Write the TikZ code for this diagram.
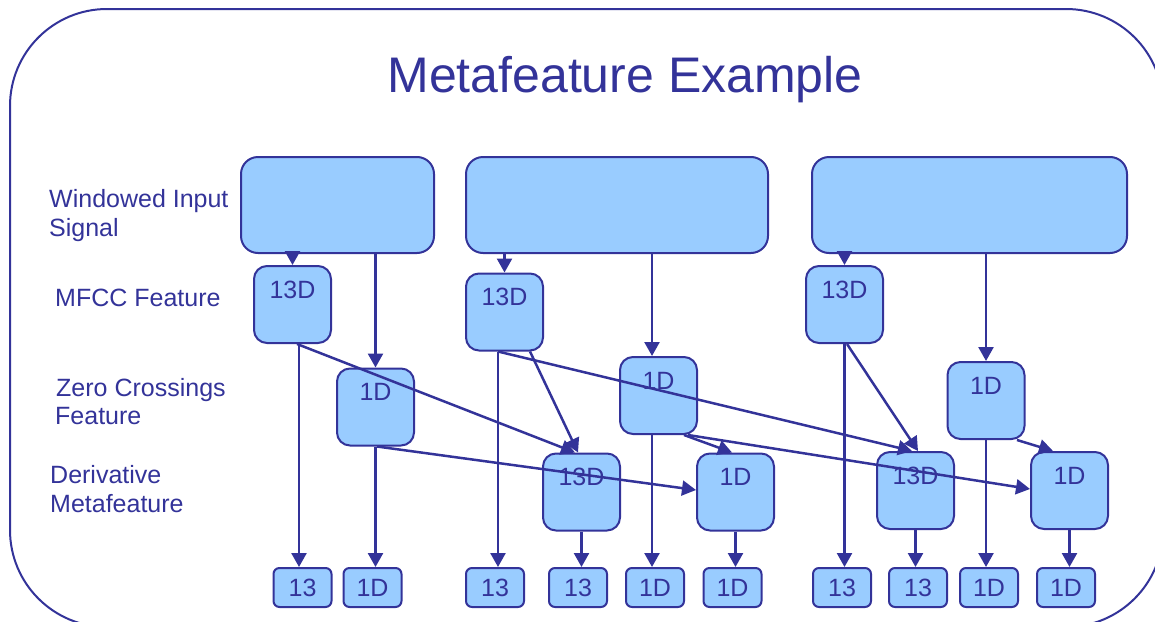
\documentclass[tikz,border=0pt]{standalone}
\usepackage{fontspec}
\setmainfont{Liberation Sans}
\usetikzlibrary{arrows.meta}
\definecolor{navy}{HTML}{333399}
\definecolor{skyfill}{HTML}{99CCFF}
\begin{document}
\begin{tikzpicture}[x=1pt,y=-1pt,
  every node/.style={text=navy, inner sep=0pt, font=\fontsize{25}{28}\selectfont},
  bigbox/.style={draw=navy, fill=skyfill, line width=2pt, rounded corners=17pt, minimum height=96pt},
  featbox/.style={draw=navy, fill=skyfill, line width=2pt, rounded corners=13pt, minimum width=77pt, text height=32pt, text depth=45pt},
  outbox/.style={draw=navy, fill=skyfill, line width=2pt, rounded corners=6pt, minimum width=58pt, minimum height=39pt},
  lbl/.style={anchor=base west},
  conn/.style={draw=navy, line width=2.5pt, -{Triangle[width=15pt,length=14pt]}},
]
\useasboundingbox (0,0) rectangle (1155,621);
\clip (0,0) rectangle (1155,621);
% frame
\draw[navy, line width=2pt, rounded corners=97pt] (10,9) rectangle (1163,627);
% title
\node[anchor=base, font=\fontsize{50}{60}\selectfont] (title) at (625,92) {Metafeature Example};
% row labels
\node[lbl] (l1a) at (49,207) {Windowed Input};
\node[lbl] (l1b) at (49,236) {Signal};
\node[lbl] (l2) at (55,306) {MFCC Feature};
\node[lbl] (l3a) at (56,396) {Zero Crossings};
\node[lbl] (l3b) at (55,424) {Feature};
\node[lbl] (l4a) at (50,483) {Derivative};
\node[lbl] (l4b) at (50,512) {Metafeature};
% input boxes
\node[bigbox, minimum width=193pt] (in1) at (337.5,205) {};
\node[bigbox, minimum width=302pt] (in2) at (617,205) {};
\node[bigbox, minimum width=315pt] (in3) at (969.5,205) {};
% MFCC
\node[featbox] (m1) at (292.5,304.5) {13D};
\node[featbox] (m2) at (504.5,312) {13D};
\node[featbox] (m3) at (844.5,304.5) {13D};
% zero crossings
\node[featbox] (z1) at (375.5,407) {1D};
\node[featbox] (z2) at (658.5,395.5) {1D};
\node[featbox] (z3) at (986,400.5) {1D};
% derivatives
\node[featbox] (d1) at (581.5,492) {13D};
\node[featbox] (d2) at (735.5,492) {1D};
\node[featbox] (d3) at (915.5,490.5) {13D};
\node[featbox] (d4) at (1069.5,490.5) {1D};
% outputs
\node[outbox] (b1) at (302.5,587.5) {13};
\node[outbox] (b2) at (372.5,587.5) {1D};
\node[outbox] (b3) at (495,587.5) {13};
\node[outbox] (b4) at (578,587.5) {13};
\node[outbox] (b5) at (655,587.5) {1D};
\node[outbox] (b6) at (732.5,587.5) {1D};
\node[outbox] (b7) at (842,587.5) {13};
\node[outbox] (b8) at (918,587.5) {13};
\node[outbox] (b9) at (989,587.5) {1D};
\node[outbox] (b10) at (1066,587.5) {1D};
% input -> features
\draw[conn] (in1.south -| m1.north) -- (m1.north);
\draw[conn] (in1.south -| z1.north) -- (z1.north);
\draw[conn] (in2.south -| m2.north) -- (m2.north);
\draw[conn] ([xshift=-6.5pt]z2.north |- in2.south) -- ([xshift=-6.5pt]z2.north);
\draw[conn] (in3.south -| m3.north) -- (m3.north);
\draw[conn] (in3.south -| z3.north) -- (z3.north);
% features -> outputs
\draw[conn] ([xshift=6.5pt]m1.south) -- ([xshift=6.5pt]m1.south |- b1.north);
\draw[conn] (z1.south) -- (z1.south |- b2.north);
\draw[conn] ([xshift=-6.5pt]m2.south) -- ([xshift=-6.5pt]m2.south |- b3.north);
\draw[conn] (d1.south) -- (d1.south |- b4.north);
\draw[conn] ([xshift=-6.5pt]z2.south) -- ([xshift=-6.5pt]z2.south |- b5.north);
\draw[conn] (d2.south) -- (d2.south |- b6.north);
\draw[conn] (m3.south) -- (m3.south |- b7.north);
\draw[conn] (d3.south) -- (d3.south |- b8.north);
\draw[conn] (z3.south) -- (z3.south |- b9.north);
\draw[conn] (d4.south) -- (d4.south |- b10.north);
% features -> derivatives
\draw[conn] ([xshift=4.5pt]m1.south) -- ([xshift=-6.5pt]d1.north);
\draw[conn] ([xshift=1.5pt]z1.south) -- ([yshift=2pt]d2.west);
\draw[conn] ([xshift=25.5pt]m2.south) -- ([xshift=-3.5pt]d1.north);
\draw[conn] ([xshift=-6.5pt]m2.south) -- ([xshift=-3.5pt]d3.north);
\draw[conn] ([xshift=2.5pt]m3.south) -- ([xshift=2.5pt]d3.north);
\draw[conn] ([xshift=25.5pt]z2.south) -- ([xshift=-3.5pt]d2.north);
\draw[conn] ([xshift=29.5pt]z2.south) -- ([yshift=1.5pt]d4.west);
\draw[conn] ([xshift=31pt]z3.south) -- ([xshift=-16.5pt]d4.north);
\end{tikzpicture}
\end{document}
